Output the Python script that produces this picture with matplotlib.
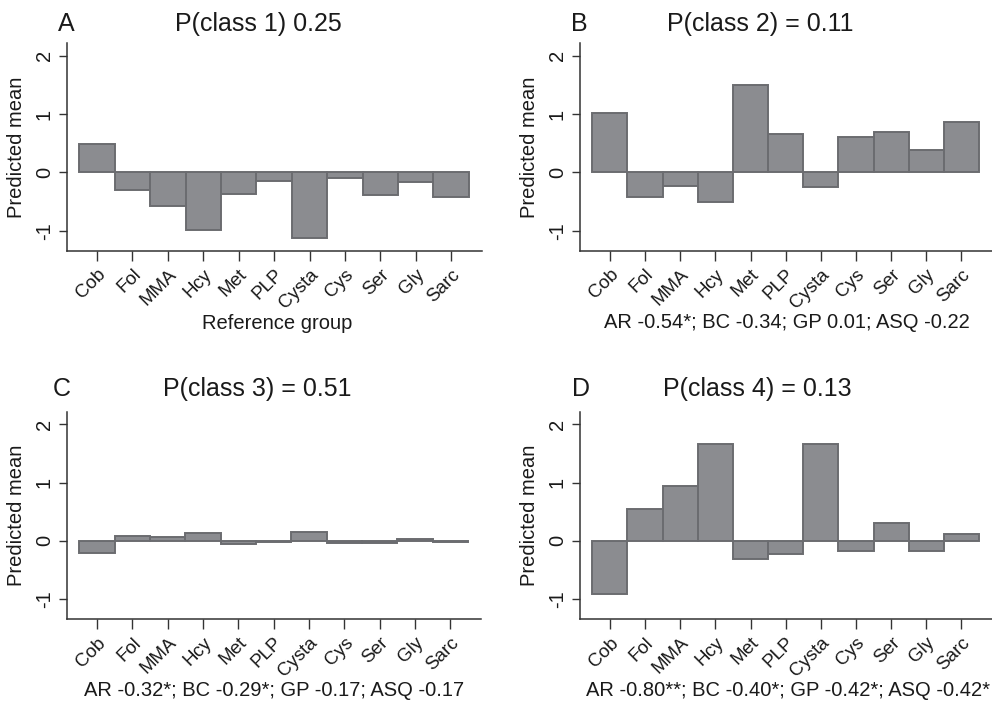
import numpy as np
import matplotlib
matplotlib.use("Agg")
import matplotlib.pyplot as plt

plt.rcParams['font.family'] = ['Liberation Sans', 'DejaVu Sans']
plt.rcParams['axes.unicode_minus'] = False

groups = ["Cob", "Fol", "MMA", "Hcy", "Met", "PLP", "Cysta", "Cys", "Ser", "Gly", "Sarc"]

class1 = [0.49, -0.30, -0.58, -0.99, -0.37, -0.15, -1.13, -0.09, -0.39, -0.17, -0.42]
class2 = [1.01, -0.42, -0.23, -0.51, 1.49, 0.66, -0.25, 0.60, 0.70, 0.38, 0.86]
class3 = [-0.21, 0.085, 0.07, 0.13, -0.06, -0.02, 0.15, -0.03, -0.045, 0.03, -0.015]
class4 = [-0.91, 0.55, 0.94, 1.66, -0.31, -0.23, 1.66, -0.18, 0.30, -0.17, 0.11]

letters = ["A", "B", "C", "D"]
titles = ["P(class 1) 0.25", "P(class 2) = 0.11", "P(class 3) = 0.51", "P(class 4) = 0.13"]
footers = ["Reference group",
           "AR -0.54*; BC -0.34; GP 0.01; ASQ -0.22",
           "AR -0.32*; BC -0.29*; GP -0.17; ASQ -0.17",
           "AR -0.80**; BC -0.40*; GP -0.42*; ASQ -0.42*"]

fill = "#8b8c90"
edge = "#6b6c70"
ink = "#1a1a1a"

fig = plt.figure(figsize=(9.92, 7.03), dpi=100)

# axes boxes [left, bottom, width, height]
boxes = [[0.0675, 0.6434, 0.418, 0.295],
         [0.5847, 0.6434, 0.415, 0.295],
         [0.0675, 0.1195, 0.417, 0.2944],
         [0.5847, 0.1195, 0.415, 0.2944]]
letter_pos = [(0.058, 0.966), (0.576, 0.966), (0.053, 0.447), (0.577, 0.447)]
title_pos = [(0.260, 0.966), (0.766, 0.966), (0.259, 0.447), (0.763, 0.447)]
footer_pos = [(0.279, 0.540), (0.793, 0.541), (0.276, 0.018), (0.794, 0.018)]

x = np.arange(len(groups))
for i, vals in enumerate([class1, class2, class3, class4]):
    ax = fig.add_axes(boxes[i])
    ax.bar(x, vals, width=1.0, color=fill, edgecolor=edge, linewidth=1.4)
    ax.set_xlim(-0.85, 10.86)
    ax.set_ylim(-1.34, 2.21)
    ax.set_yticks([-1, 0, 1, 2])
    ax.set_xticks(x)
    ax.set_xticklabels(groups, rotation=45, ha='right', rotation_mode='anchor',
                       fontsize=13.5, color=ink)
    for lab in ax.get_yticklabels():
        lab.set_rotation(90)
        lab.set_va('center')
    ax.tick_params(axis='y', labelsize=14.5, labelcolor=ink, length=6, width=1, color="#333333")
    ax.tick_params(axis='x', length=7, width=1, color="#333333", pad=4)
    for s in ["top", "right"]:
        ax.spines[s].set_visible(False)
    for s in ["left", "bottom"]:
        ax.spines[s].set_color("#333333")
        ax.spines[s].set_linewidth(1.1)
    ax.set_ylabel("Predicted mean", fontsize=14.5, color=ink, labelpad=6)
    fig.text(footer_pos[i][0], footer_pos[i][1], footers[i], fontsize=14.5, color=ink,
             ha='center', va='center')
    fig.text(letter_pos[i][0], letter_pos[i][1], letters[i], fontsize=18, color=ink,
             ha='left', va='center')
    fig.text(title_pos[i][0], title_pos[i][1], titles[i], fontsize=18, color=ink,
             ha='center', va='center')

fig.savefig("out.png", dpi=100)
